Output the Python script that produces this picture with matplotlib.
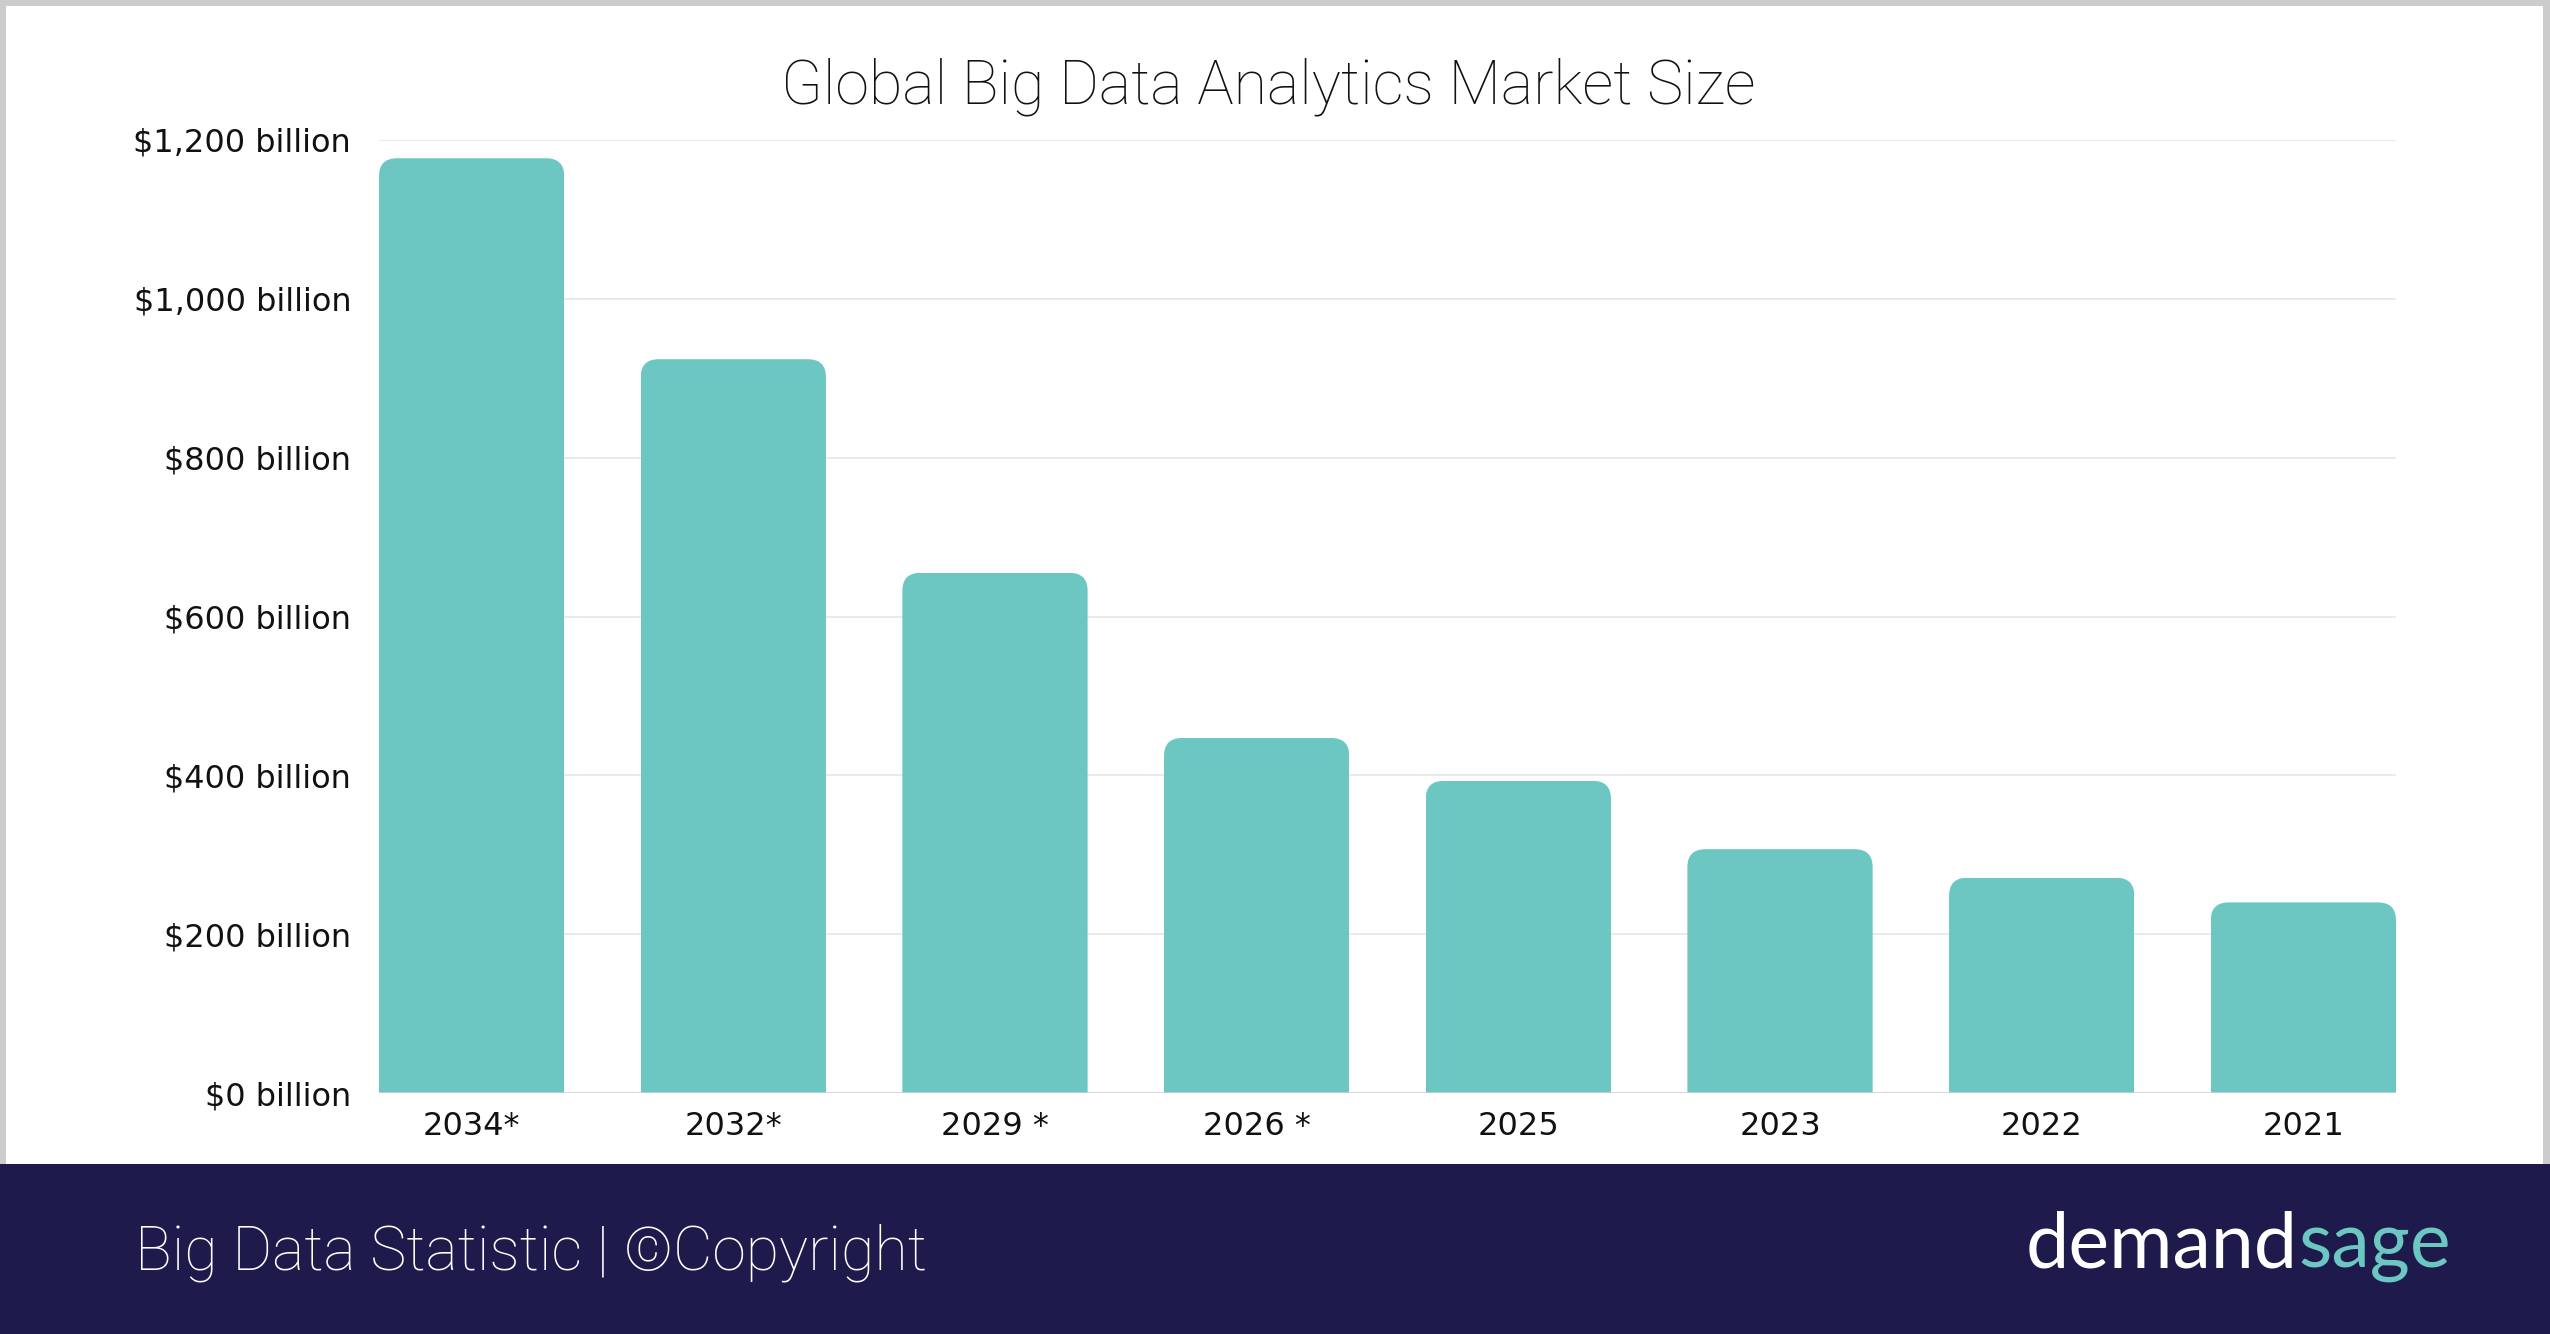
import matplotlib
matplotlib.use("Agg")
import matplotlib.pyplot as plt
from matplotlib.patches import FancyBboxPatch, Rectangle

# ---------------- data ----------------
years = ["2034*", "2032*", "2029 *", "2026 *", "2025", "2023", "2022", "2021"]
market_size = [1177, 924, 655, 447, 393, 307, 271, 240]
y_ticks = [0, 200, 400, 600, 800, 1000, 1200]
y_tick_labels = ["$0 billion", "$200 billion", "$400 billion", "$600 billion",
                 "$800 billion", "$1,000 billion", "$1,200 billion"]
title_text = "Global Big Data Analytics Market Size"
footer_text = "Big Data Statistic | \u00a9Copyright"
brand_left, brand_right = "demand", "sage"

# ---------------- style ----------------
W, H = 2550, 1334
TEAL = "#6CC7C2"
NAVY = "#1E1A4B"
FRAME = "#cccccc"

fig = plt.figure(figsize=(W / 100, H / 100), dpi=100)
fig.patch.set_facecolor(FRAME)
fig.add_artist(Rectangle((6 / W, 0), 1 - 13 / W, 1 - 6 / H, transform=fig.transFigure,
                         facecolor="white", edgecolor="none", zorder=0))
fig.add_artist(Rectangle((0, 0), 1, (H - 1164) / H, transform=fig.transFigure,
                         facecolor=NAVY, edgecolor="none", zorder=1))

ax_l, ax_r, ax_t, ax_b = 379, 2396, 140, 1093
ax = fig.add_axes([ax_l / W, 1 - ax_b / H, (ax_r - ax_l) / W, (ax_b - ax_t) / H])
ax.set_facecolor("none")
bar_w = 0.708
xs = list(range(len(years)))
ax.set_xlim(-bar_w / 2, len(years) - 1 + bar_w / 2)
ax.set_ylim(0, 1200)

bars = ax.bar(xs, market_size, width=bar_w, color=TEAL, zorder=3, linewidth=0)

# rounded top corners via clip paths
px_per_x = (ax_r - ax_l) / (len(years) - 1 + bar_w)
px_per_y = (ax_b - ax_t) / 1200
r_px = 18
r_x = r_px / px_per_x
r_y = r_px / px_per_y
for b in bars:
    x0, w, h = b.get_x(), b.get_width(), b.get_height()
    clip = FancyBboxPatch((x0, -60), w, h + 60,
                          boxstyle=f"round,pad=0,rounding_size={r_x}",
                          mutation_aspect=r_y / r_x, transform=ax.transData)
    b.set_clip_path(clip)

ax.set_yticks(y_ticks, y_tick_labels)
ax.set_xticks(xs, years)
for s in ax.spines.values():
    s.set_visible(False)
ax.yaxis.grid(True, color="#e6e6e6", linewidth=1.2, zorder=0)
ax.set_axisbelow(True)
ax.axhline(0, color="#d2d2d2", linewidth=1.8, zorder=4)
ax.tick_params(axis="y", length=0, pad=20, labelsize=23, labelcolor="#111111")
ax.tick_params(axis="x", length=0, pad=13, labelsize=23, labelcolor="#111111")
for lab in ax.get_yticklabels() + ax.get_xticklabels():
    lab.set_fontfamily("DejaVu Sans")

# ---------------- texts ----------------
renderer = fig.canvas.get_renderer()


def fit_width(txt, target):
    for _ in range(3):
        bb = txt.get_window_extent(renderer=renderer)
        txt.set_fontsize(txt.get_fontsize() * target / bb.width)


title = fig.text(1268 / W, 1 - 103 / H, title_text, ha="center", va="baseline",
                 fontsize=40, color="#111111", family=["Roboto", "DejaVu Sans"],
                 fontweight="light", zorder=5)
fit_width(title, 976)

foot = fig.text(135 / W, 1 - 1269 / H, footer_text, ha="left", va="baseline",
                fontsize=39, color="white", family=["Roboto", "DejaVu Sans"],
                fontweight="light", zorder=5)
fit_width(foot, 792)

b1 = fig.text(2026 / W, 1 - 1267 / H, brand_left, ha="left", va="baseline",
              fontsize=50, color="white", family=["Lato", "DejaVu Sans"],
              fontweight="normal", zorder=5)
b2 = fig.text(0, 1 - 1267 / H, brand_right, ha="left", va="baseline",
              fontsize=50, color=TEAL, family=["Lato", "DejaVu Sans"],
              fontweight="normal", zorder=5)
target_w = 2451 - 2026
for _ in range(3):
    w1 = b1.get_window_extent(renderer=renderer).width
    w2 = b2.get_window_extent(renderer=renderer).width
    scale = target_w / (w1 + w2)
    b1.set_fontsize(b1.get_fontsize() * scale)
    b2.set_fontsize(b2.get_fontsize() * scale)
w1 = b1.get_window_extent(renderer=renderer).width
b2.set_x((2026 + w1) / W)

fig.savefig("out.png", dpi=100, facecolor=fig.get_facecolor())
